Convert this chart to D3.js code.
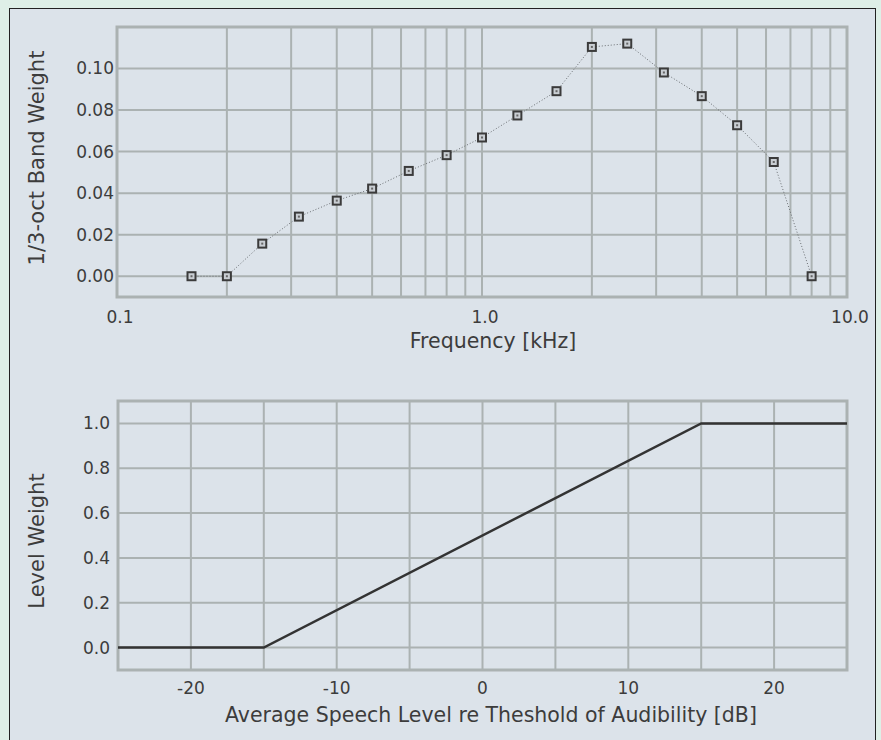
<!DOCTYPE html>
<html>
<head>
<meta charset="utf-8">
<script src="https://cdn.jsdelivr.net/npm/d3@7"></script>
<style>
    body { margin: 0; background: #deefe7; }
    text { font-family: "DejaVu Sans", Verdana, sans-serif; fill: #3c3c3c; }
</style>
</head>
<body>
<div class="chart"></div>
<script>
"use strict";
// band importance (1/3 octave)
const bandFreqs = [0.16, 0.2, 0.25, 0.315, 0.4, 0.5, 0.63, 0.8, 1.0, 1.25, 1.6, 2.0, 2.5, 3.15, 4.0, 5.0, 6.3, 8.0];
const bandWeights = [0.0, 0.0, 0.0157, 0.0287, 0.0364, 0.0422, 0.0507, 0.0583, 0.0668, 0.0774, 0.0891, 0.1104, 0.1120, 0.0981, 0.0867, 0.0727, 0.0550, 0.0];
const freqTicks = [0.1, 1.0, 10.0];
const weightTicks = [0.0, 0.02, 0.04, 0.06, 0.08, 0.10];

// level weight
const levelDb = [-25, -15, 15, 25];
const levelWeights = [0, 0, 1, 1];
const levelTicksX = [-20, -10, 0, 10, 20];
const levelGridX = [-20, -15, -10, -5, 0, 5, 10, 15, 20];
const levelTicksY = [0.0, 0.2, 0.4, 0.6, 0.8, 1.0];

const W = 881, H = 740;
const gridColor = "#abb2b2";

let svg = d3.select(".chart").append("svg")
    .attr("width", W)
    .attr("height", H);

svg.append("rect")
    .attr("x", 9.5).attr("y", 8.5)
    .attr("width", 866).attr("height", 760)
    .style("fill", "#dce3ea")
    .style("stroke", "#222")
    .style("stroke-width", 1);

function frame(g, w, h){
    g.append("rect")
        .attr("x", 0).attr("y", 0)
        .attr("width", w).attr("height", h)
        .style("fill", "none")
        .style("stroke", gridColor)
        .style("stroke-width", 3);
}

// ---- top chart ----
let m1 = {left: 117, top: 27, right: 847, bottom: 297};
let x1 = d3.scaleLog().domain([0.1, 10]).range([0, m1.right - m1.left]);
let y1 = d3.scaleLinear().domain([-0.01, 0.12]).range([m1.bottom - m1.top, 0]);
let g1 = svg.append("g").attr("transform", "translate(" + m1.left + "," + m1.top + ")");
let h1 = m1.bottom - m1.top, w1 = m1.right - m1.left;

let logGrid = [];
[0.1, 1].forEach(dec => { for (let k = 1; k <= 9; k++) logGrid.push(dec * k); });

g1.selectAll(".vgrid").data(logGrid.slice(1)).enter().append("line")
    .attr("x1", d => x1(d)).attr("x2", d => x1(d))
    .attr("y1", 0).attr("y2", h1)
    .style("stroke", gridColor).style("stroke-width", 2);
g1.selectAll(".hgrid").data(weightTicks).enter().append("line")
    .attr("x1", 0).attr("x2", w1)
    .attr("y1", d => y1(d)).attr("y2", d => y1(d))
    .style("stroke", gridColor).style("stroke-width", 2);
frame(g1, w1, h1);

let bandData = bandFreqs.map((f, i) => ({f: f, w: bandWeights[i]}));
g1.append("path")
    .attr("d", d3.line().x(d => x1(d.f)).y(d => y1(d.w))(bandData))
    .style("fill", "none")
    .style("stroke", "#6a6e72")
    .style("stroke-width", 1)
    .style("stroke-dasharray", "1,2");
g1.selectAll(".mark").data(bandData).enter().append("rect")
    .attr("x", d => x1(d.f) - 4).attr("y", d => y1(d.w) - 4)
    .attr("width", 8).attr("height", 8)
    .style("fill", "#c9ced3")
    .style("stroke", "#3b3b3b")
    .style("stroke-width", 2);
g1.selectAll(".dot").data(bandData).enter().append("rect")
    .attr("x", d => x1(d.f) - 1).attr("y", d => y1(d.w) - 1)
    .attr("width", 2).attr("height", 2)
    .style("fill", "#666");

g1.selectAll(".ytick").data(weightTicks).enter().append("text")
    .attr("x", -3).attr("y", d => y1(d))
    .attr("dy", ".35em")
    .attr("text-anchor", "end")
    .style("font-size", "17px")
    .text(d => d3.format(".2f")(d));
g1.selectAll(".xtick").data(freqTicks).enter().append("text")
    .attr("x", d => x1(d) + 3).attr("y", h1 + 20)
    .attr("dy", ".35em")
    .attr("text-anchor", "middle")
    .style("font-size", "17px")
    .text(d => d3.format(".1f")(d));
g1.append("text")
    .attr("x", 493 - m1.left).attr("y", h1 + 44)
    .attr("dy", ".35em")
    .attr("text-anchor", "middle")
    .style("font-size", "20.5px")
    .text("Frequency [kHz]");
g1.append("text")
    .attr("transform", "translate(" + (37 - m1.left) + "," + (158 - m1.top) + ") rotate(-90)")
    .attr("dy", ".35em")
    .attr("text-anchor", "middle")
    .style("font-size", "21px")
    .text("1/3-oct Band Weight");

// ---- bottom chart ----
let m2 = {left: 118, top: 401, right: 847, bottom: 670};
let x2 = d3.scaleLinear().domain([-25, 25]).range([0, m2.right - m2.left]);
let y2 = d3.scaleLinear().domain([-0.1, 1.1]).range([m2.bottom - m2.top, 0]);
let g2 = svg.append("g").attr("transform", "translate(" + m2.left + "," + m2.top + ")");
let h2 = m2.bottom - m2.top, w2 = m2.right - m2.left;

g2.selectAll(".vgrid").data(levelGridX).enter().append("line")
    .attr("x1", d => x2(d)).attr("x2", d => x2(d))
    .attr("y1", 0).attr("y2", h2)
    .style("stroke", gridColor).style("stroke-width", 2);
g2.selectAll(".hgrid").data(levelTicksY).enter().append("line")
    .attr("x1", 0).attr("x2", w2)
    .attr("y1", d => y2(d)).attr("y2", d => y2(d))
    .style("stroke", gridColor).style("stroke-width", 2);
frame(g2, w2, h2);

let levelData = levelDb.map((d, i) => ({db: d, w: levelWeights[i]}));
g2.append("path")
    .attr("d", d3.line().x(d => x2(d.db)).y(d => y2(d.w))(levelData))
    .style("fill", "none")
    .style("stroke", "#333")
    .style("stroke-width", 2.5);

g2.selectAll(".ytick").data(levelTicksY).enter().append("text")
    .attr("x", -8).attr("y", d => y2(d))
    .attr("dy", ".35em")
    .attr("text-anchor", "end")
    .style("font-size", "17px")
    .text(d => d3.format(".1f")(d));
g2.selectAll(".xtick").data(levelTicksX).enter().append("text")
    .attr("x", d => x2(d)).attr("y", h2 + 18)
    .attr("dy", ".35em")
    .attr("text-anchor", "middle")
    .style("font-size", "17px")
    .text(d => d);
g2.append("text")
    .attr("x", 491 - m2.left).attr("y", h2 + 45)
    .attr("dy", ".35em")
    .attr("text-anchor", "middle")
    .style("font-size", "20.5px")
    .text("Average Speech Level re Theshold of Audibility [dB]");
g2.append("text")
    .attr("transform", "translate(" + (37 - m2.left) + "," + (541 - m2.top) + ") rotate(-90)")
    .attr("dy", ".35em")
    .attr("text-anchor", "middle")
    .style("font-size", "21px")
    .text("Level Weight");
</script>
</body>
</html>
